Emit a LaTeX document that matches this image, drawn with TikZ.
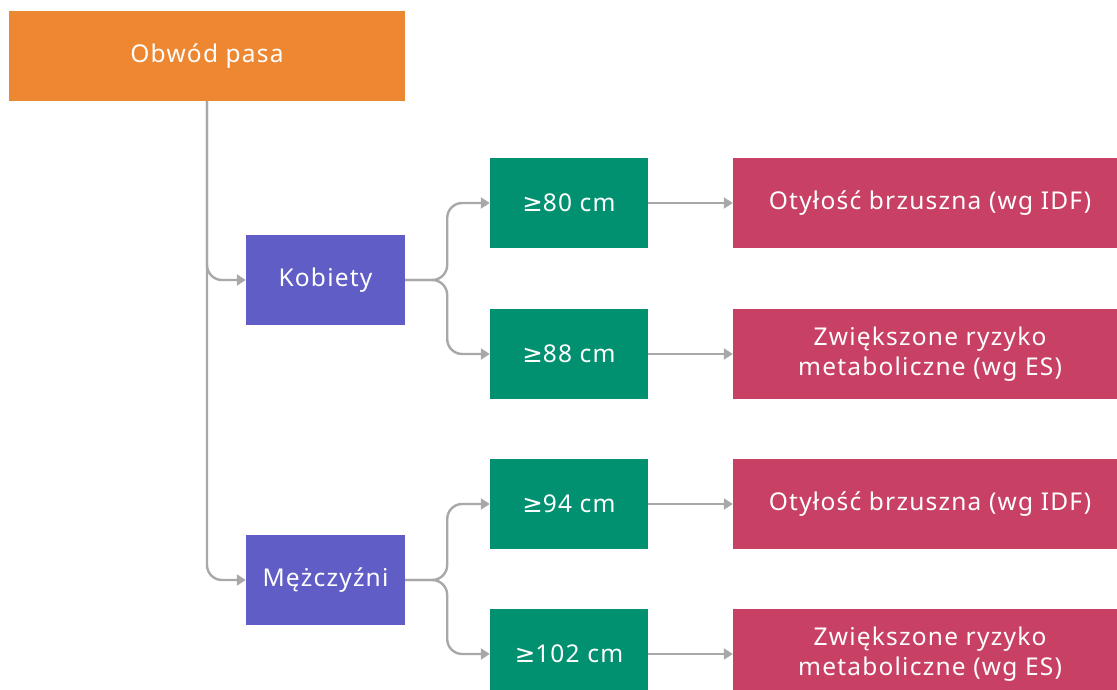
\documentclass[tikz,border=0pt]{standalone}
\usepackage{fontspec}
\setmainfont{Noto Sans}[LetterSpace=5]
\newfontfamily\symfont{DejaVu Sans}
\newcommand{\gesym}{{\symfont ≥}}
\usetikzlibrary{arrows.meta}
\definecolor{cOrange}{HTML}{EE8732}
\definecolor{cPurple}{HTML}{605DC6}
\definecolor{cGreen}{HTML}{019170}
\definecolor{cRed}{HTML}{C84064}
\definecolor{cLine}{HTML}{A8A8A8}
\tikzset{
  box/.style={rectangle, draw=none, text=white, align=center, inner sep=0pt,
     font=\fontsize{24.5}{30}\selectfont},
  rootbox/.style={box, fill=cOrange, minimum width=396pt, minimum height=90pt},
  sexbox/.style={box, fill=cPurple, minimum width=159pt, minimum height=90pt},
  valbox/.style={box, fill=cGreen, minimum width=158pt, minimum height=90pt},
  resbox/.style={box, fill=cRed, minimum width=394pt, minimum height=90pt},
  conn/.style={draw=cLine, line width=2.4pt, rounded corners=15pt,
     -{Triangle[length=9pt,width=11pt]}},
}
\begin{document}
\begin{tikzpicture}[x=1pt,y=-1pt]
\useasboundingbox (0,0) rectangle (1117,690);
\clip (0,0) rectangle (1117,690);
\node[rootbox] (root) at (207,56) {Obwód pasa};
\node[sexbox] (kob) at (325.5,280) {Kobiety};
\node[sexbox] (mez) at (325.5,580) {Mężczyźni};
\node[valbox] (v80) at (569,203) {\gesym80 cm};
\node[valbox] (v88) at (569,354) {\gesym88 cm};
\node[valbox] (v94) at (569,504) {\gesym94 cm};
\node[valbox] (v102) at (569,654) {\gesym102 cm};
\node[resbox] (r1) at (930,203) {Otyłość brzuszna (wg IDF)};
\node[resbox] (r2) at (930,354) {Zwiększone ryzyko\\metaboliczne (wg ES)};
\node[resbox] (r3) at (930,504) {Otyłość brzuszna (wg IDF)};
\node[resbox] (r4) at (930,654) {Zwiększone ryzyko\\metaboliczne (wg ES)};
\draw[conn] (root.south) |- (kob.west);
\draw[conn] (root.south) |- (mez.west);
\draw[conn] (kob.east) -- ++(42,0) |- (v80.west);
\draw[conn] (kob.east) -- ++(42,0) |- (v88.west);
\draw[conn] (mez.east) -- ++(42,0) |- (v94.west);
\draw[conn] (mez.east) -- ++(42,0) |- (v102.west);
\draw[conn] (v80.east) -- (r1.west);
\draw[conn] (v88.east) -- (r2.west);
\draw[conn] (v94.east) -- (r3.west);
\draw[conn] (v102.east) -- (r4.west);
\end{tikzpicture}
\end{document}
